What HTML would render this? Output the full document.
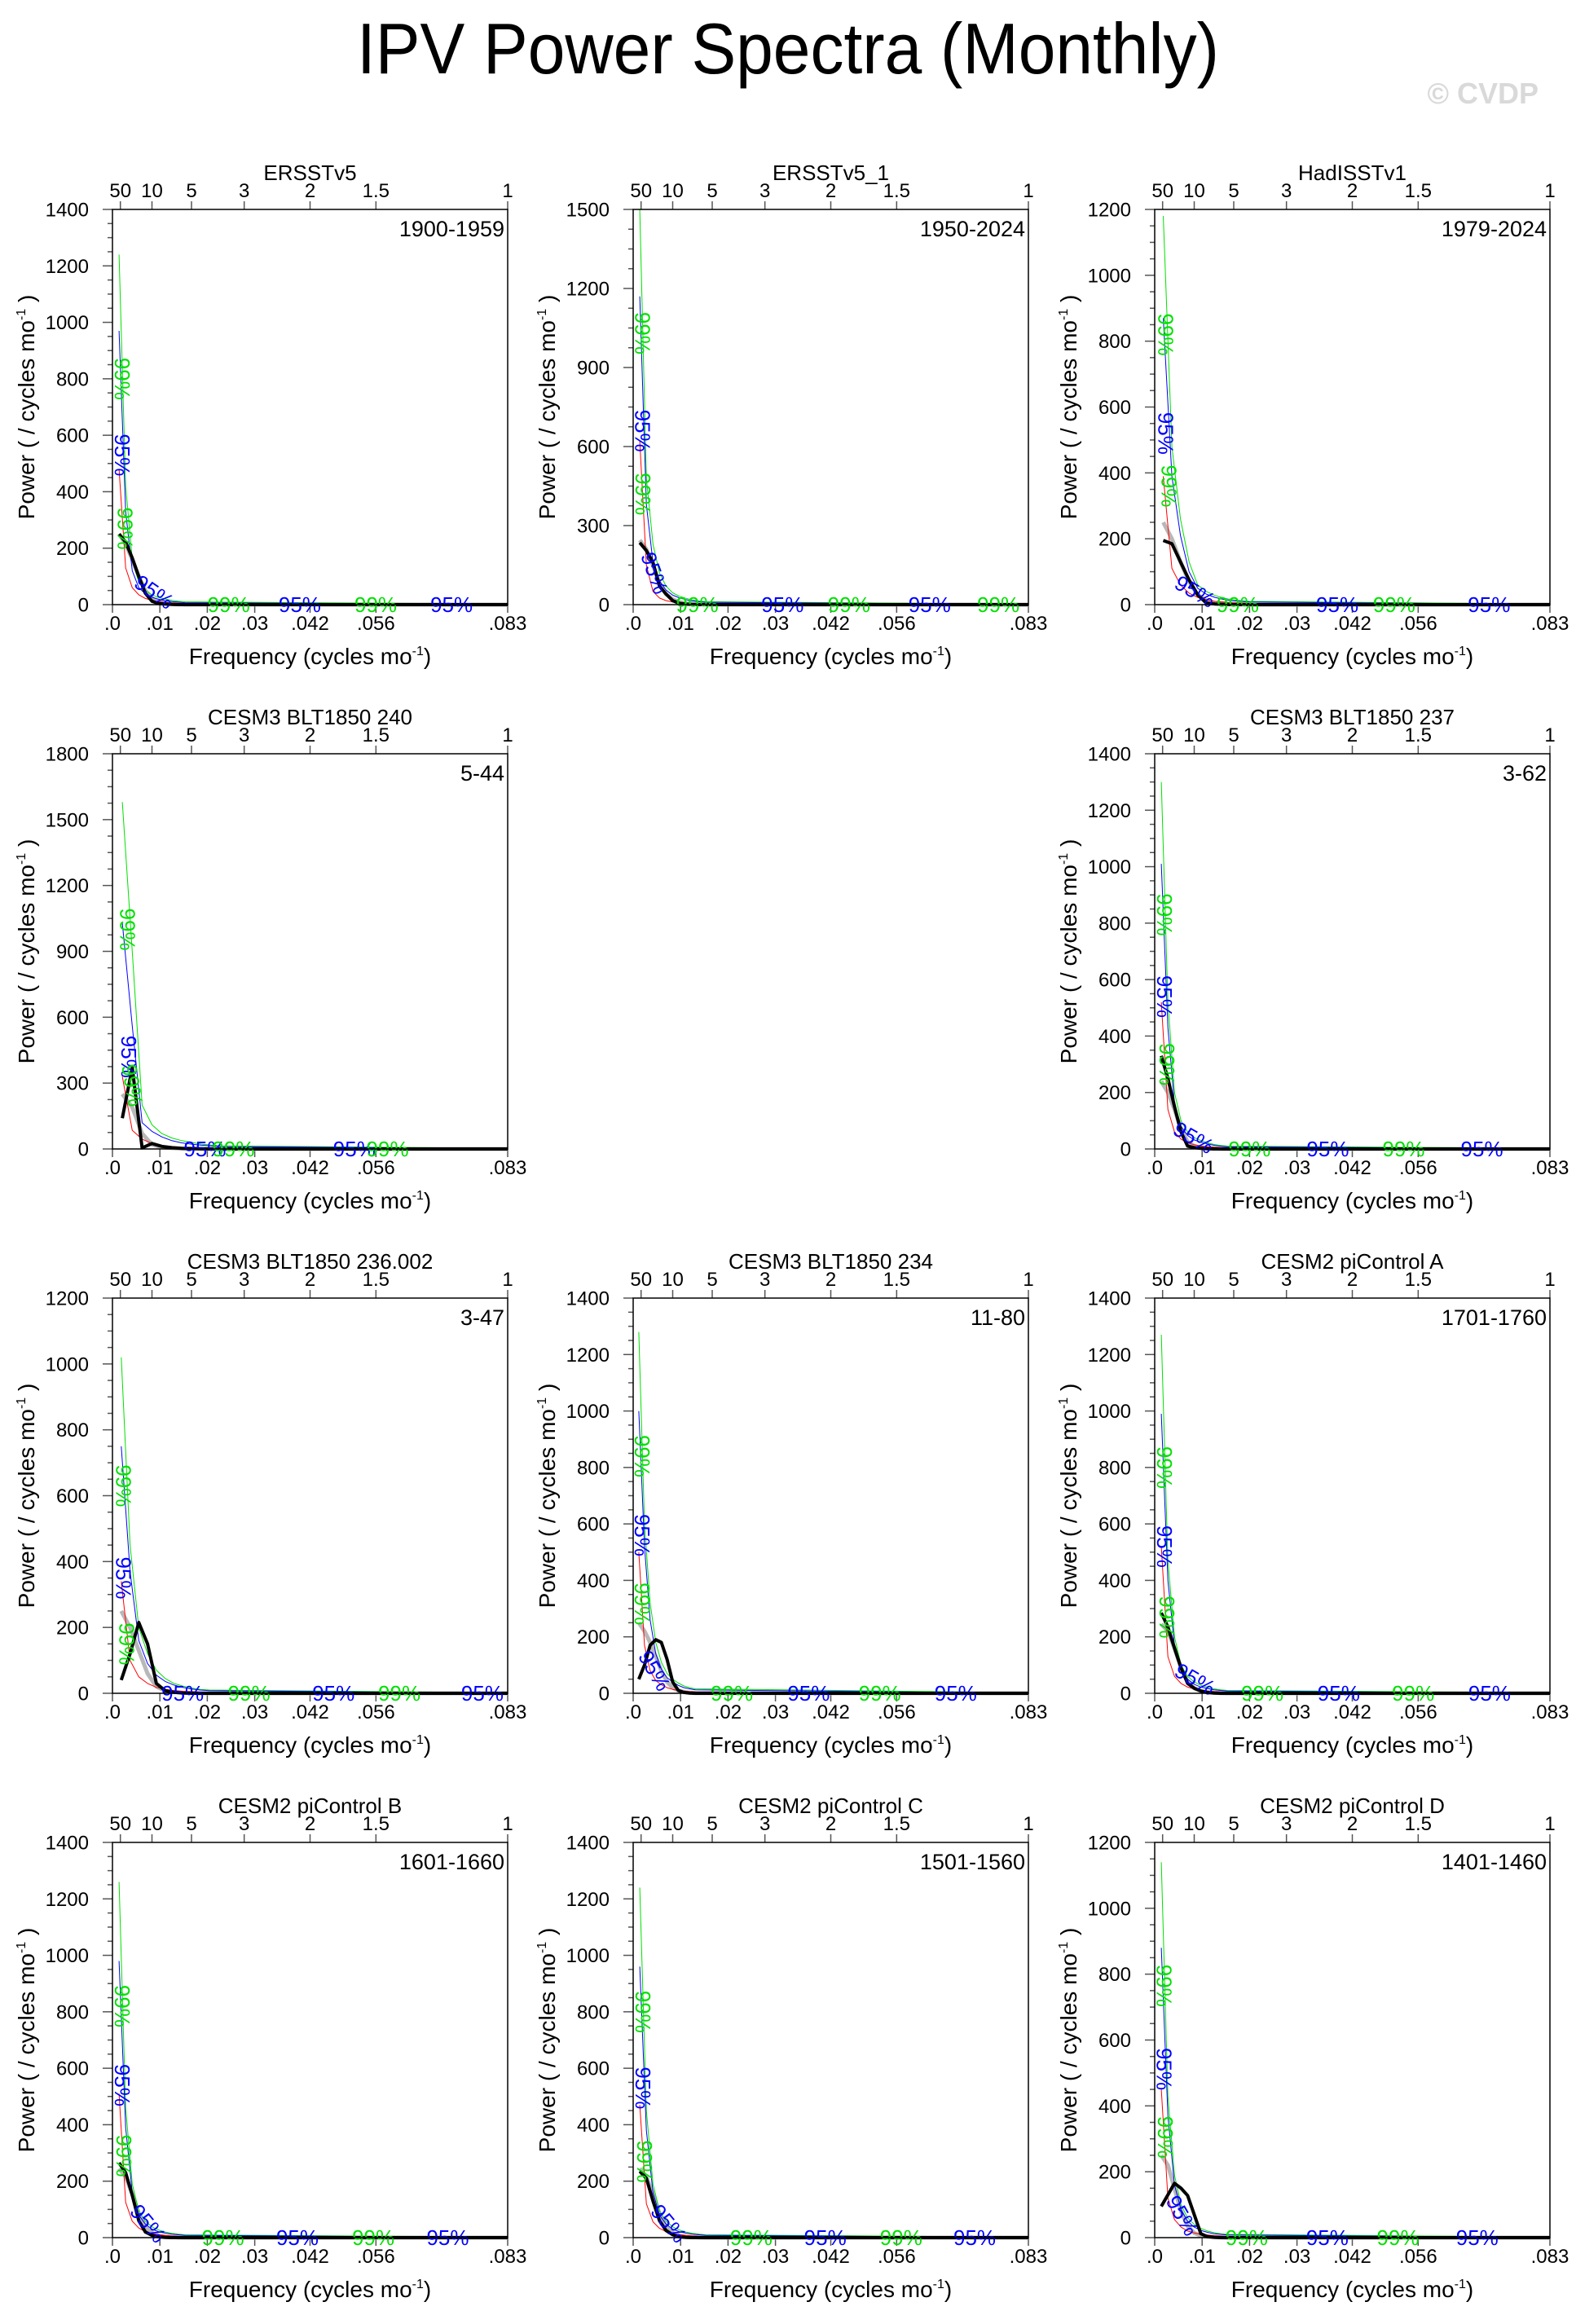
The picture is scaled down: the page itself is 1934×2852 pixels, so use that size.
<!DOCTYPE html>
<html><head><meta charset="utf-8">
<style>
html,body{margin:0;padding:0;background:#fff;}
svg{display:block;font-family:"Liberation Sans",sans-serif;}
</style></head>
<body>
<svg id="fig" xmlns="http://www.w3.org/2000/svg" width="1934" height="2852" viewBox="0 0 1934 2852">
<rect x="0" y="0" width="1934" height="2852" fill="#fff"/>
<text x="967" y="90" text-anchor="middle" font-size="88" textLength="1058" lengthAdjust="spacingAndGlyphs" fill="#000">IPV Power Spectra (Monthly)</text>
<text x="1888" y="127" text-anchor="end" font-size="36" font-weight="bold" fill="#d9d9d9">© CVDP</text>
</svg>
<script>
// ---- chart data ----
const titles = ["ERSSTv5","ERSSTv5_1","HadISSTv1","CESM3 BLT1850 240","CESM3 BLT1850 237","CESM3 BLT1850 236.002","CESM3 BLT1850 234","CESM2 piControl A","CESM2 piControl B","CESM2 piControl C","CESM2 piControl D"];
const periods = ["1900-1959","1950-2024","1979-2024","5-44","3-62","3-47","11-80","1701-1760","1601-1660","1501-1560","1401-1460"];
const nYears = [60,60,46,40,60,45,70,60,60,60,60];
const yMax = [1400,1500,1200,1800,1400,1200,1400,1400,1400,1400,1200];
const yStep = [200,300,200,300,200,200,200,200,200,200,200];
const topTickPeriods = [50,10,5,3,2,1.5,1];
const bottomTickLabels = [".0",".01",".02",".03",".042",".056",".083"];
const bottomTickFreqs = [0,0.01,0.02,0.03,1/24,1/18,1/12];
const green99 = [
[1240,420,160,80,50,35,25,20,15,12,10,2],
[1500,480,230,120,70,45,32,24,18,14,11,2],
[1180,480,260,130,60,40,28,20,15,12,10,2],
[1580,900,200,110,70,50,38,30,22,18,14,3],
[1300,520,200,100,60,40,30,22,16,12,10,2],
[1020,450,200,120,70,45,30,22,16,12,10,2],
[1280,600,320,180,110,70,50,36,26,20,16,2],
[1270,470,200,100,60,40,28,22,16,12,10,2],
[1260,460,190,95,58,38,27,20,15,12,10,2],
[1240,450,190,95,58,38,27,20,15,12,10,2],
[1140,430,190,100,60,40,28,20,15,12,10,2]];
const blue95 = [
[970,330,120,60,38,26,19,14,11,9,7,1],
[1170,380,160,90,55,36,26,19,14,11,9,1],
[870,390,210,100,50,32,22,16,12,10,8,1],
[1030,560,120,80,55,38,28,22,17,14,11,2],
[1010,430,160,80,48,32,24,18,13,10,8,1],
[750,370,160,90,55,36,25,18,13,10,8,1],
[1000,520,260,140,85,55,40,28,20,16,12,1],
[990,400,170,85,50,32,22,17,12,10,8,1],
[980,390,160,80,48,30,21,16,12,10,8,1],
[960,380,160,80,48,30,21,16,12,10,8,1],
[880,370,160,85,50,32,22,16,12,10,8,1]];
const redNoise = [
[480,130,60,35,22,15,10,8,6,5,4,0],
[620,150,50,25,15,10,7,5,4,3,2,0],
[390,110,60,35,22,15,10,8,6,5,4,0],
[330,85,45,25,15,10,7,5,4,3,2,0],
[520,140,60,35,22,15,10,8,6,5,4,0],
[340,100,50,30,18,12,8,6,5,4,3,0],
[500,170,80,45,30,20,14,10,8,6,5,0],
[520,130,60,35,22,15,10,8,6,5,4,0],
[510,125,58,34,21,14,10,8,6,5,4,0],
[470,120,56,33,21,14,10,8,6,5,4,0],
[450,120,55,32,20,14,10,8,6,5,4,0]];
const graySpec = [
[250,215,160,100,50,22,10,5,3,2,1,0],
[245,210,150,80,40,20,10,5,3,2,1,0],
[250,200,130,70,30,12,5,3,2,1,0,0],
[250,190,70,20,8,4,2,1,0,0,0,0],
[240,200,140,70,25,10,5,3,2,1,0,0],
[250,200,130,60,20,8,4,2,1,0,0,0],
[250,220,180,130,80,40,20,10,5,2,1,0],
[245,220,160,90,40,18,8,4,2,1,0,0],
[245,215,155,85,38,16,7,3,2,1,0,0],
[245,215,155,85,38,16,7,3,2,1,0,0],
[250,220,150,80,35,14,6,3,2,1,0,0]];
const blackSpec = [
[250,222,165,100,40,12,4,2,1,0,0,0],
[235,205,160,70,40,15,5,2,1,0,0,0],
[195,185,130,75,30,5,2,1,0,0,0,0],
[140,370,5,25,12,6,3,2,1,0,0,0],
[330,250,150,60,10,5,2,1,0,0,0,0],
[40,120,215,150,30,8,3,1,0,0,0,0],
[50,100,170,190,180,120,40,10,3,1,0,0],
[285,235,160,90,35,18,8,3,1,0,0,0],
[265,230,150,60,20,8,3,1,0,0,0,0],
[235,210,130,60,25,10,3,1,0,0,0,0],
[95,130,165,150,128,70,12,3,1,0,0,0]];
// significance labels: [text, freq, value, rotation]
const sigLabels = [
[["99%",.0021,800,90],["95%",.0021,530,90],["99%",.0027,270,90],["95%",.0088,45,35],["99%",.0245,0,0],["95%",.0395,0,0],["99%",.0555,0,0],["95%",.0715,0,0]],
[["99%",.002,1030,90],["95%",.002,660,90],["99%",.0021,420,90],["95%",.0045,120,70],["99%",.0135,0,0],["95%",.0315,0,0],["99%",.0455,0,0],["95%",.0625,0,0],["99%",.077,0,0]],
[["99%",.0023,820,90],["95%",.0023,520,90],["99%",.003,360,90],["95%",.0085,40,30],["99%",.0175,0,0],["95%",.0385,0,0],["99%",.0505,0,0],["95%",.0705,0,0]],
[["99%",.0032,1000,90],["95%",.0034,420,90],["99%",.0042,290,80],["95%",.0195,0,0],["99%",.0255,0,0],["95%",.051,0,0],["99%",.058,0,0]],
[["99%",.0021,830,90],["95%",.0021,540,90],["99%",.0026,300,90],["95%",.0082,40,30],["99%",.02,0,0],["95%",.0365,0,0],["99%",.0525,0,0],["95%",.069,0,0]],
[["99%",.0023,630,90],["95%",.0023,350,90],["99%",.003,150,90],["95%",.0148,0,0],["99%",.0288,0,0],["95%",.0466,0,0],["99%",.0605,0,0],["95%",.078,0,0]],
[["99%",.0019,840,90],["95%",.0019,560,90],["99%",.0019,317,90],["95%",.0045,80,60],["99%",.0208,0,0],["95%",.037,0,0],["99%",.052,0,0],["95%",.068,0,0]],
[["99%",.0021,800,90],["95%",.0021,520,90],["99%",.0026,270,90],["95%",.0085,50,30],["99%",.0227,0,0],["95%",.0388,0,0],["99%",.0545,0,0],["95%",.0706,0,0]],
[["99%",.0021,820,90],["95%",.0021,540,90],["99%",.0024,290,90],["95%",.0075,50,50],["99%",.0233,0,0],["95%",.039,0,0],["99%",.055,0,0],["95%",.0707,0,0]],
[["99%",.0021,800,90],["95%",.0021,530,90],["99%",.0024,270,90],["95%",.0075,50,50],["99%",.0249,0,0],["95%",.0405,0,0],["99%",.0565,0,0],["95%",.072,0,0]],
[["99%",.002,765,90],["95%",.002,512,90],["99%",.0022,305,90],["95%",.0058,67,60],["99%",.0194,0,0],["95%",.0364,0,0],["99%",.0513,0,0],["95%",.068,0,0]]];

// ---- layout ----
const NS = "http://www.w3.org/2000/svg";
const svg = document.getElementById("fig");
const colX = [138, 777, 1417];
const rowY = [257, 925, 1593, 2261];
const slots = [[0,0],[0,1],[0,2],[1,0],[1,2],[2,0],[2,1],[2,2],[3,0],[3,1],[3,2]];
const PW = 485, PH = 485, FMAX = 1/12;

function mk(tag, attrs, parent) {
  const e = document.createElementNS(NS, tag);
  for (const k in attrs) e.setAttribute(k, attrs[k]);
  parent.appendChild(e);
  return e;
}

slots.forEach(function(slot, p) {
  const L = colX[slot[1]], T = rowY[slot[0]];
  const g = mk("g", {}, svg);
  
  
  const xs = function(f) { return L + f / FMAX * PW; };
  const ys = function(v) { return T + PH - v / yMax[p] * PH; };
  const freqAt = function(i, n) { return i === n - 1 ? FMAX : (i + 1) / (12 * nYears[p]); };

  for (let v = 0; v <= yMax[p] + 0.01; v += yStep[p] / 4) {
    const major = Math.abs(v / yStep[p] - Math.round(v / yStep[p])) < 1e-6;
    const t = mk("line", {x1: L - (major ? 12 : 6), x2: L, y1: ys(v), y2: ys(v), stroke: "#555", "stroke-width": 1.5}, g);
    
    
    if (major) {
      const tl = mk("text", {x: L - 29, y: ys(v) + 8.5, "text-anchor": "end", "font-size": 24}, g);
      tl.textContent = Math.round(v);
      
      
    }
  }
  bottomTickFreqs.forEach(function(f, i) {
    const t = mk("line", {x1: xs(f), x2: xs(f), y1: T + PH, y2: T + PH + 10, stroke: "#555", "stroke-width": 1.5}, g);
    
    
    const tl = mk("text", {x: xs(f), y: T + PH + 31, "text-anchor": "middle", "font-size": 24}, g);
    tl.textContent = bottomTickLabels[i];
    
    
  });
  topTickPeriods.forEach(function(per) {
    const f = 1 / (12 * per);
    const t = mk("line", {x1: xs(f), x2: xs(f), y1: T - 10, y2: T, stroke: "#555", "stroke-width": 1.5}, g);
    
    
    const tl = mk("text", {x: xs(f), y: T - 15, "text-anchor": "middle", "font-size": 24}, g);
    tl.textContent = per;
    
    
  });

  const series = [[graySpec[p], "#b8b8b8", 5, "gray-spectrum"], [green99[p], "#00e000", 1, "99-percent-curve"], [blue95[p], "#0000ff", 1, "95-percent-curve"], [redNoise[p], "#ff0000", 1, "red-noise-curve"], [blackSpec[p], "#000", 4, "power-spectrum"]];
  series.forEach(function(s) {
    const arr = s[0];
    const pts = arr.map(function(v, i) { return xs(freqAt(i, arr.length)).toFixed(1) + "," + ys(v).toFixed(1); }).join(" ");
    const pl = mk("polyline", {points: pts, fill: "none", stroke: s[1], "stroke-width": s[2], "stroke-linejoin": "round"}, g);
    
    
  });

  sigLabels[p].forEach(function(lb) {
    const col = lb[0] === "99%" ? "#00e000" : "#0000ff";
    const x = xs(lb[1]), y = ys(lb[2]);
    const tl = mk("text", {x: x, y: y + 9, "text-anchor": "middle", "font-size": 26, fill: col, transform: "rotate(" + lb[3] + " " + x + " " + y + ")"}, g);
    tl.textContent = lb[0];
    
    
  });

  const fr = mk("rect", {x: L, y: T, width: PW, height: PH, fill: "none", stroke: "#000", "stroke-width": 1.5}, g);
  
  

  const ti = mk("text", {x: L + PW / 2, y: T - 36, "text-anchor": "middle", "font-size": 26}, g);
  ti.textContent = titles[p];
  
  

  const pe = mk("text", {x: L + PW - 4, y: T + 33, "text-anchor": "end", "font-size": 27}, g);
  pe.textContent = periods[p];
  
  

  const xt = mk("text", {x: L + PW / 2, y: T + PH + 73, "text-anchor": "middle", "font-size": 28}, g);
  xt.innerHTML = 'Frequency (cycles mo<tspan dy="-11" font-size="16">-1</tspan><tspan dy="11">)</tspan>';
  
  

  const cy = T + PH / 2;
  const yt = mk("text", {x: L - 96, y: cy, "text-anchor": "middle", "font-size": 28, transform: "rotate(-90 " + (L - 96) + " " + cy + ")"}, g);
  yt.innerHTML = 'Power ( / cycles mo<tspan dy="-11" font-size="16">-1</tspan><tspan dy="11"> )</tspan>';
  
  
});
</script>
</body></html>
